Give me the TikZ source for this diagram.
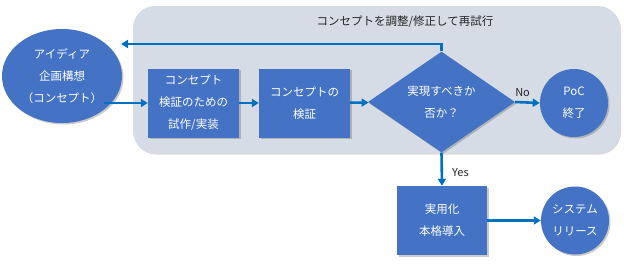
\documentclass[tikz,border=0pt]{standalone}
\usepackage{fontspec}
\setmainfont{Noto Sans CJK JP}
\usetikzlibrary{arrows.meta,shapes.geometric,shadows}
\definecolor{nodeblue}{HTML}{4472C4}
\definecolor{arrowblue}{HTML}{0070C0}
\definecolor{panelgrey}{HTML}{D6DCE5}
\definecolor{textdark}{HTML}{262626}
\tikzset{
  shape shadow/.style={drop shadow={shadow xshift=1.5pt,shadow yshift=-1.5pt,opacity=0.35,fill=black!60}},
  blueshape/.style={fill=nodeblue,draw=none,text=white,align=center,inner sep=0pt,
     font=\fontsize{11.5}{22}\selectfont,shape shadow},
  bluebox/.style={blueshape,rectangle,minimum width=91pt,minimum height=69pt},
  blueround/.style={blueshape,circle,minimum size=68pt},
  bluediamond/.style={blueshape,diamond,minimum width=147pt,minimum height=66pt},
  flowarrow/.style={draw=arrowblue,line width=2.6pt,-{Triangle[length=7pt,width=8pt]}},
  lbl/.style={text=textdark,font=\fontsize{11}{13}\selectfont,inner sep=1pt}
}
\begin{document}
\begin{tikzpicture}[x=1pt,y=-1pt]
\useasboundingbox (0,0) rectangle (624,263);
% panel
\fill[panelgrey,drop shadow={shadow xshift=1pt,shadow yshift=-1.5pt,opacity=0.3}]
  (133,6) [rounded corners=22pt] rectangle (620,153);
\node[lbl,font=\fontsize{11.5}{13}\selectfont] (title) at (405,22) {コンセプトを調整/修正して再試行};
% nodes
\node[blueshape,ellipse,minimum width=120pt,minimum height=94pt] (idea) at (62,76) {アイディア\\企画構想\\（コンセプト）};
\node[bluebox] (proto) at (193.5,103) {コンセプト\\検証のための\\試作/実装};
\node[bluebox] (verify) at (304.5,103) {コンセプトの\\検証};
\node[bluediamond] (dec) at (441.5,102) {実現すべきか\\否か？};
\node[blueround] (poc) at (574,103) {PoC\\終了};
\node[bluebox,minimum height=69pt,minimum width=90pt] (prod) at (442,220.5) {実用化\\本格導入};
\node[blueround] (sys) at (575,220.5) {システム\\リリース};
% connectors
\coordinate (fbend) at (121,44);
\coordinate (istart) at (104,103);
\draw[flowarrow] (dec.north) |- (fbend);
\draw[flowarrow] (istart) -- (proto.west);
\draw[flowarrow] (proto) -- (verify);
\draw[flowarrow] (verify) -- (dec);
\draw[flowarrow] (dec.east) -- node[lbl,above=3pt,pos=0.3] (nolbl) {No} (poc.west);
\draw[flowarrow] (dec.south) -- node[lbl,right=8pt,pos=0.6] (yeslbl) {Yes} (prod.north);
\draw[flowarrow] (prod) -- (sys);
\end{tikzpicture}
\end{document}
